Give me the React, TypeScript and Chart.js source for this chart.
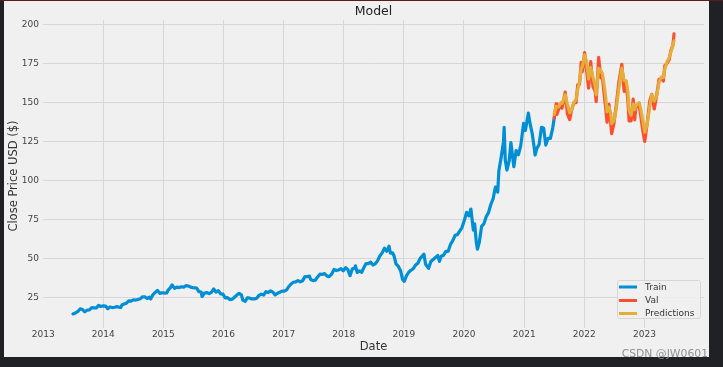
import React, { useEffect, useRef } from 'react';
import { Chart, registerables } from 'chart.js';

Chart.register(...registerables);

// ---------- data ----------
const trainDates = [
  '2013-07-01','2013-07-15','2013-07-31','2013-08-14','2013-08-28','2013-09-11','2013-09-25','2013-10-09','2013-10-23','2013-11-06','2013-11-20','2013-12-04','2013-12-18',
  '2014-01-02','2014-01-16','2014-01-28','2014-02-11','2014-02-25','2014-03-11','2014-03-25','2014-04-08','2014-04-17','2014-04-24','2014-05-08','2014-05-22','2014-06-05','2014-06-19','2014-07-03','2014-07-17','2014-07-31','2014-08-14','2014-08-28','2014-09-11','2014-09-25','2014-10-09','2014-10-16','2014-10-30','2014-11-13','2014-11-26','2014-12-10','2014-12-24',
  '2015-01-08','2015-01-22','2015-01-29','2015-02-12','2015-02-23','2015-03-10','2015-03-24','2015-04-07','2015-04-21','2015-05-05','2015-05-19','2015-06-02','2015-06-16','2015-06-30','2015-07-14','2015-07-22','2015-08-05','2015-08-19','2015-08-24','2015-09-08','2015-09-22','2015-10-06','2015-10-20','2015-11-03','2015-11-17','2015-12-01','2015-12-15','2015-12-29',
  '2016-01-12','2016-01-26','2016-02-09','2016-02-23','2016-03-08','2016-03-22','2016-04-05','2016-04-19','2016-04-28','2016-05-12','2016-05-26','2016-06-09','2016-06-23','2016-07-07','2016-07-21','2016-08-04','2016-08-18','2016-09-01','2016-09-15','2016-09-29','2016-10-13','2016-10-27','2016-11-10','2016-11-24','2016-12-08','2016-12-22',
  '2017-01-05','2017-01-19','2017-02-01','2017-02-15','2017-03-01','2017-03-15','2017-03-29','2017-04-12','2017-04-26','2017-05-10','2017-05-24','2017-06-07','2017-06-14','2017-06-28','2017-07-12','2017-07-26','2017-08-09','2017-08-23','2017-09-06','2017-09-20','2017-10-04','2017-10-18','2017-11-03','2017-11-17','2017-12-01','2017-12-15','2017-12-29',
  '2018-01-12','2018-01-26','2018-02-08','2018-02-22','2018-03-08','2018-03-13','2018-03-23','2018-04-06','2018-04-20','2018-05-02','2018-05-16','2018-05-30','2018-06-13','2018-06-27','2018-07-11','2018-07-25','2018-08-08','2018-08-22','2018-09-05','2018-09-19','2018-10-03','2018-10-11','2018-10-24','2018-11-02','2018-11-14','2018-11-28','2018-12-12','2018-12-24',
  '2019-01-03','2019-01-17','2019-01-30','2019-02-13','2019-02-27','2019-03-13','2019-03-27','2019-04-10','2019-04-24','2019-05-03','2019-05-13','2019-05-31','2019-06-14','2019-06-28','2019-07-12','2019-07-26','2019-08-05','2019-08-16','2019-08-30','2019-09-13','2019-09-27','2019-10-11','2019-10-25','2019-11-08','2019-11-22','2019-12-06','2019-12-20',
  '2020-01-03','2020-01-17','2020-01-31','2020-02-12','2020-02-27','2020-03-06','2020-03-16','2020-03-23','2020-04-03','2020-04-17','2020-05-01','2020-05-15','2020-05-29','2020-06-12','2020-06-26','2020-07-10','2020-07-24','2020-07-31','2020-08-14','2020-08-28','2020-09-01','2020-09-08','2020-09-18','2020-10-02','2020-10-12','2020-10-30','2020-11-13','2020-11-27','2020-12-11','2020-12-28',
  '2021-01-08','2021-01-26','2021-02-05','2021-02-19','2021-03-04','2021-03-08','2021-03-18','2021-04-01','2021-04-16','2021-04-29','2021-05-12','2021-05-26','2021-06-09','2021-06-23','2021-07-02'
];
const trainClose = [
  14.6,15.2,16.2,17.9,17.4,16.0,17.0,17.2,18.6,18.5,18.5,20.1,19.4,
  19.8,19.6,17.9,19.1,18.7,18.9,19.3,18.9,18.7,20.3,21.0,21.5,23.0,22.8,23.7,23.5,23.9,24.4,25.6,25.5,24.5,25.3,24.2,27.0,28.4,29.7,27.8,28.2,
  28.0,28.1,29.7,31.3,33.2,31.0,31.8,31.5,32.0,31.8,32.7,32.5,31.8,31.4,31.3,31.2,28.9,28.6,25.8,28.0,28.3,27.6,28.4,30.6,28.6,29.5,27.5,27.3,
  24.9,25.0,23.8,24.0,25.3,26.7,27.8,26.8,23.4,22.6,25.0,24.7,24.2,24.2,24.7,26.5,27.3,26.7,28.9,28.3,29.4,28.6,26.8,27.9,28.5,29.2,
  29.2,30.0,32.2,33.8,34.9,35.1,36.0,35.2,35.8,38.5,38.5,38.8,36.6,36.0,36.2,38.3,40.1,39.9,40.5,39.0,38.5,39.9,43.1,42.4,42.8,43.6,42.3,
  44.3,42.9,39.1,43.6,44.0,45.4,41.2,42.2,41.3,44.1,46.9,46.9,47.8,46.0,46.7,48.6,51.7,53.7,56.7,54.8,58.0,53.6,53.8,51.9,46.7,45.2,42.3,36.7,
  35.5,39.2,41.3,42.6,43.6,45.9,47.1,50.2,51.8,52.9,46.4,43.8,48.2,49.5,50.8,52.0,48.3,51.6,52.2,54.7,54.7,59.1,61.6,65.0,65.4,67.7,69.9,
  74.4,79.7,77.4,81.8,68.3,72.3,60.6,56.1,60.4,70.7,72.3,76.9,79.5,84.7,88.4,95.9,92.6,106.3,114.9,124.8,134.2,113.0,106.8,113.0,124.4,108.9,119.3,116.6,122.4,136.7,
  132.1,143.2,136.8,129.9,120.1,116.4,120.5,123.0,134.2,133.6,122.8,127.1,127.1,133.7,140.0
];
const valDates = [
  '2021-07-02','2021-07-14','2021-07-19','2021-07-30','2021-08-13','2021-08-19','2021-09-07','2021-09-20','2021-10-04','2021-10-15','2021-10-29','2021-11-12','2021-11-22','2021-12-03','2021-12-13','2021-12-20',
  '2022-01-03','2022-01-13','2022-01-27','2022-02-09','2022-02-23','2022-03-08','2022-03-14','2022-03-29','2022-04-11','2022-04-21','2022-04-29','2022-05-11','2022-05-19','2022-05-31','2022-06-10','2022-06-16','2022-06-30','2022-07-14','2022-07-29','2022-08-17','2022-08-31','2022-09-12','2022-09-23','2022-09-30','2022-10-12','2022-10-25','2022-11-03','2022-11-10','2022-11-30','2022-12-09','2022-12-22',
  '2023-01-03','2023-01-17','2023-02-02','2023-02-15','2023-03-02','2023-03-17','2023-03-31','2023-04-14','2023-04-26','2023-05-05','2023-05-18','2023-05-31','2023-06-12','2023-06-23','2023-06-30'
];
const valClose = [
  140.0,149.2,142.5,145.9,149.0,146.4,156.7,142.9,139.1,144.8,149.8,150.0,161.4,161.8,175.7,169.8,
  182.0,172.2,159.2,176.3,160.1,157.4,150.6,178.9,165.8,166.4,157.7,146.5,137.4,148.8,137.1,130.1,136.7,148.5,162.5,174.5,157.2,163.4,150.4,138.2,138.3,152.3,138.9,146.9,148.0,142.2,132.2,
  125.1,136.0,150.8,155.3,145.9,155.0,164.9,165.2,163.8,173.6,175.0,177.3,183.8,186.7,194.0
];
const predClose = [
  142.5,147.5,147.0,147.5,150.0,149.5,155.0,149.0,143.5,145.0,150.0,152.0,158.5,163.5,172.0,173.0,
  180.5,177.0,165.0,172.5,166.0,160.5,155.0,172.0,170.5,168.5,163.0,153.5,144.0,147.0,143.5,136.5,138.5,146.0,158.5,172.0,164.0,164.0,156.5,145.0,142.0,149.0,145.5,148.0,150.0,146.5,138.5,
  131.0,135.5,147.0,155.0,151.0,154.5,163.0,166.5,166.0,171.5,176.0,178.5,183.0,186.5,189.5
];
const xTickYears = [2013, 2014, 2015, 2016, 2017, 2018, 2019, 2020, 2021, 2022, 2023];
const yTickValues = [25, 50, 75, 100, 125, 150, 175, 200];
const seriesNames = ['Train', 'Val', 'Predictions'];
const seriesColors = ['#008fd5', '#fc4f30', '#e5ae38'];
const xMinDate = '2012-12-31';
const xMaxDate = '2023-12-29';
const yMin = 5.6;
const yMax = 202.9;

const toDay = (s: string) => Date.parse(s) / 864e5;
const FONT = '"DejaVu Sans", sans-serif';

export default function App() {
  const ref = useRef<HTMLCanvasElement | null>(null);

  useEffect(() => {
    const canvas = ref.current;
    if (!canvas) return;

    const decor = {
      id: 'decor',
      beforeDraw(chart: any) {
        const c = chart.ctx;
        c.save();
        c.fillStyle = '#202124';
        c.fillRect(0, 0, 723, 367);
        c.fillStyle = '#5a1c1c';
        c.fillRect(0, 0, 723, 1);
        c.fillStyle = '#f0f0f0';
        c.fillRect(4, 1, 705, 356);
        c.restore();
      },
      afterDraw(chart: any) {
        const c = chart.ctx;
        const a = chart.chartArea;
        const cx = (a.left + a.right) / 2;
        c.save();
        c.fillStyle = '#222';
        c.textAlign = 'center';
        c.textBaseline = 'middle';
        c.font = `12.5px ${FONT}`;
        c.fillText('Model', cx, 11.5);
        c.fillStyle = '#333';
        c.font = `11.5px ${FONT}`;
        c.fillText('Date', cx, 347);
        c.save();
        c.translate(14, 176);
        c.rotate(-Math.PI / 2);
        c.fillText('Close Price USD ($)', 0, 0);
        c.restore();

        // legend
        const bx = 617, by = 280, bw = 83, bh = 38;
        c.fillStyle = 'rgba(240,240,240,0.85)';
        c.strokeStyle = '#d6d6d6';
        c.lineWidth = 1;
        c.beginPath();
        c.roundRect(bx + 0.5, by + 0.5, bw, bh, 2);
        c.fill();
        c.stroke();
        const ys = [287, 300.5, 313.5];
        c.font = `9px ${FONT}`;
        c.textAlign = 'left';
        c.textBaseline = 'middle';
        seriesNames.forEach((n, i) => {
          c.strokeStyle = seriesColors[i];
          c.lineWidth = 3;
          c.beginPath();
          c.moveTo(619, ys[i]);
          c.lineTo(637, ys[i]);
          c.stroke();
          c.fillStyle = '#333';
          c.fillText(n, 645, ys[i] + 0.5);
        });

        // watermark
        c.font = `10.8px ${FONT}`;
        c.textAlign = 'right';
        c.textBaseline = 'alphabetic';
        c.fillStyle = 'rgba(140,140,140,0.95)';
        c.fillText('CSDN @JW0601', 708, 357);
        c.restore();
      },
    };

    const chart = new Chart(canvas, {
      type: 'line',
      data: {
        datasets: [
          {
            label: seriesNames[0],
            data: trainDates.map((d, i) => ({ x: toDay(d), y: trainClose[i] })),
            borderColor: seriesColors[0],
            order: 2,
          },
          {
            label: seriesNames[1],
            data: valDates.map((d, i) => ({ x: toDay(d), y: valClose[i] })),
            borderColor: seriesColors[1],
            order: 1,
          },
          {
            label: seriesNames[2],
            data: valDates.map((d, i) => ({ x: toDay(d), y: predClose[i] })),
            borderColor: seriesColors[2],
            order: 0,
          },
        ],
      },
      options: {
        animation: false,
        responsive: false,
        maintainAspectRatio: false,
        layout: { padding: { top: 20, right: 19, bottom: 0, left: 0 } },
        elements: {
          point: { radius: 0, hoverRadius: 0 },
          line: { borderWidth: 3.2, tension: 0, borderJoinStyle: 'round', borderCapStyle: 'round', fill: false },
        },
        plugins: {
          legend: { display: false },
          tooltip: { enabled: false },
          title: { display: false },
        },
        scales: {
          x: {
            type: 'linear',
            min: toDay(xMinDate),
            max: toDay(xMaxDate),
            border: { display: false },
            grid: {
              color: (ctx: any) => (ctx.index === 0 ? 'rgba(0,0,0,0)' : '#d7d7d7'),
              lineWidth: 1,
              drawTicks: false,
            },
            ticks: {
              font: { family: FONT, size: 9 },
              color: '#444',
              padding: 1,
              maxRotation: 0,
              autoSkip: false,
              callback: (v: any) => String(new Date(Number(v) * 864e5).getUTCFullYear()),
            },
            afterBuildTicks: (s: any) => {
              s.ticks = xTickYears.map((y) => ({ value: toDay(`${y}-01-01`) }));
            },
            afterFit: (s: any) => {
              s.height = 39;
            },
          },
          y: {
            type: 'linear',
            min: yMin,
            max: yMax,
            border: { display: false },
            grid: { color: '#d7d7d7', lineWidth: 1, drawTicks: false },
            ticks: {
              font: { family: FONT, size: 9 },
              color: '#444',
              padding: 4,
              autoSkip: false,
            },
            afterBuildTicks: (s: any) => {
              s.ticks = yTickValues.map((v) => ({ value: v }));
            },
            afterFit: (s: any) => {
              s.width = 43;
            },
          },
        },
      },
      plugins: [decor],
    } as any);

    return () => chart.destroy();
  }, []);

  return (
    <div style={{ position: 'fixed', left: 0, top: 0, width: 723, height: 367, background: '#202124' }}>
      <canvas ref={ref} width={723} height={367} style={{ display: 'block', width: 723, height: 367 }} />
    </div>
  );
}
